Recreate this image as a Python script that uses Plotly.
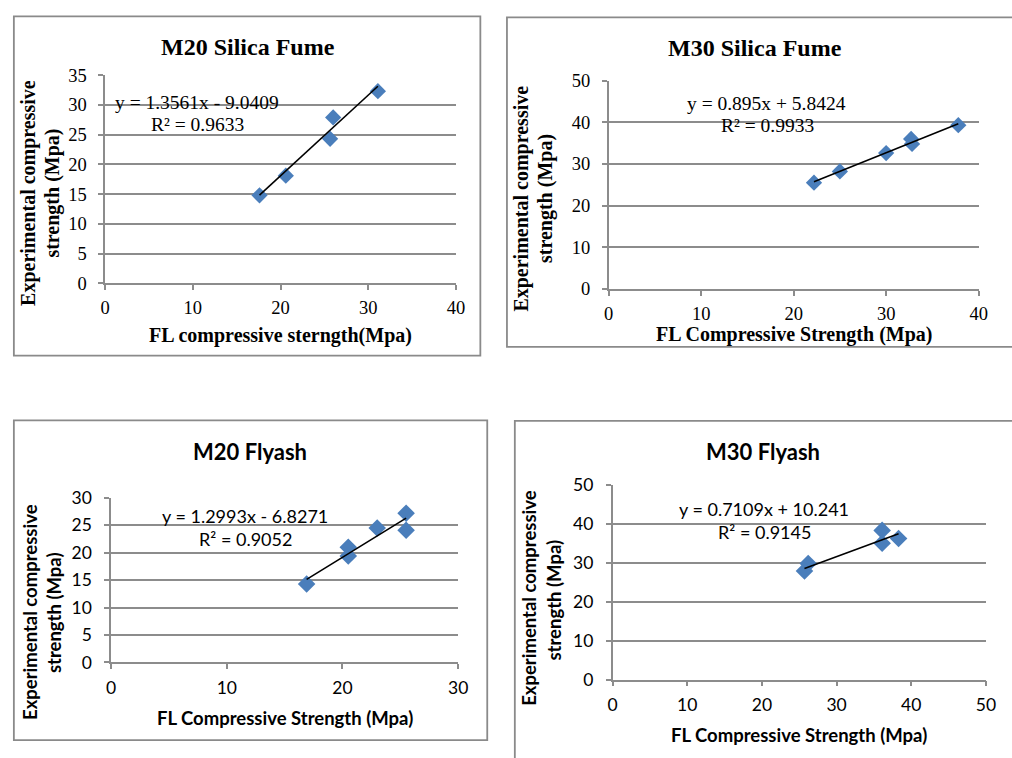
import plotly.graph_objects as go

W, H = 1012, 758

# ---------------- data ----------------
titles = ["M20 Silica Fume", "M30 Silica Fume", "M20 Flyash", "M30 Flyash"]
x_titles = ["FL compressive sterngth(Mpa)", "FL Compressive Strength (Mpa)",
            "FL Compressive Strength (Mpa)", "FL Compressive Strength (Mpa)"]
y_title_1 = "Experimental compressive"
y_title_2 = "strength (Mpa)"

m20sf_x = [17.6, 20.6, 25.65, 26.0, 31.1]
m20sf_y = [14.8, 18.1, 24.3, 27.9, 32.3]
m30sf_x = [22.2, 25.0, 30.0, 32.7, 32.8, 37.8]
m30sf_y = [25.5, 28.2, 32.6, 36.0, 34.8, 39.3]
m20fa_x = [16.9, 20.5, 20.5, 23.0, 25.5, 25.5]
m20fa_y = [14.3, 21.0, 19.4, 24.5, 27.2, 24.1]
m30fa_x = [26.2, 25.7, 36.1, 36.1, 38.3]
m30fa_y = [29.8, 27.9, 38.3, 35.0, 36.2]

slopes = [1.3561, 0.895, 1.2993, 0.7109]
intercepts = [-9.0409, 5.8424, -6.8271, 10.241]
eq_texts = ["y = 1.3561x - 9.0409", "y = 0.895x + 5.8424",
            "y = 1.2993x - 6.8271", "y = 0.7109x + 10.241"]
r2_texts = ["R² = 0.9633", "R² = 0.9933", "R² = 0.9052", "R² = 0.9145"]

x_ranges = [[0, 40], [0, 40], [0, 30], [0, 50]]
y_ranges = [[0, 35], [0, 50], [0, 30], [0, 50]]
x_dticks = [10, 10, 10, 10]
y_dticks = [5, 10, 5, 10]

series_x = [m20sf_x, m30sf_x, m20fa_x, m30fa_x]
series_y = [m20sf_y, m30sf_y, m20fa_y, m30fa_y]

# ---------------- layout geometry (pixels) ----------------
plot_boxes = [  # x0, x1, ytop, ybottom
    (101.7, 457.7, 66.0, 280.0),
    (612.7, 988.3, 71.7, 285.7),
    (107.7, 460.0, 500.7, 670.0),
    (616.7, 995.7, 487.3, 687.7),
]
frames = [  # x0, x1, y0, y1
    (9, 482.5, 5.5, 354.5),
    (509.5, 1030, 6.5, 345.5),
    (9, 489.5, 421, 750),
    (517.5, 1030, 421.5, 780),
]
title_pos = [(247, 37.5), (761.7, 38.5), (249, 453), (769, 453)]
xt_pos = [(280, 334), (800.8, 332.5), (284, 726.7), (806, 745)]
yt1_pos = [(24.5, 187), (524.2, 192.5), (25.5, 618), (532.5, 604)]
yt2_pos = [(48.5, 187), (548.5, 193), (50.5, 618.5), (556.8, 605.8)]
eq_pos = [(195, 94.3), (773.3, 95), (243.7, 519.3), (770.5, 511.7)]
r2_pos = [(195, 116.7), (773.8, 117.3), (244, 542.7), (770.8, 536)]

serif = "Liberation Serif"
sans = "Lato"
fonts = [serif, serif, sans, sans]
title_sizes = [24, 24, 22, 22]
axis_title_sizes = [20, 20, 18.5, 18.5]
tick_sizes = [18.5, 18.5, 17.5, 17.5]
x_standoffs = [2, 2, 4, 4]
y_standoffs = [8, 8, 9, 9]
eq_sizes = [19.5, 19.5, 18, 18]

grid = "#8c8c8c"
blue = "#4a7ebb"


def px(x):
    return x / W


def py(y):
    return 1 - y / H


fig = go.Figure()
annotations = []
shapes = []

for i in range(4):
    n = "" if i == 0 else str(i + 1)
    xa, ya = "x" + n, "y" + n
    x0, x1, yt, yb = plot_boxes[i]
    f = fonts[i]

    fig.add_trace(go.Scatter(
        x=series_x[i], y=series_y[i], mode="markers", xaxis=xa, yaxis=ya,
        marker=dict(symbol="diamond", size=12.5 if i < 2 else 13.5, color=blue,
                    line=dict(width=0)),
        showlegend=False, hoverinfo="x+y"))

    lx = [min(series_x[i]), max(series_x[i])]
    ly = [slopes[i] * v + intercepts[i] for v in lx]
    fig.add_trace(go.Scatter(
        x=lx, y=ly, mode="lines", xaxis=xa, yaxis=ya,
        line=dict(color="black", width=1.6), showlegend=False, hoverinfo="skip"))

    xaxis = dict(domain=[px(x0), px(x1)], range=x_ranges[i], dtick=x_dticks[i], tick0=0,
                 anchor=ya, showgrid=False, zeroline=False, showline=True,
                 linecolor=grid, linewidth=1.5, ticks="outside", ticklen=5,
                 tickcolor=grid, tickwidth=1.5,
                 tickfont=dict(family=f, size=tick_sizes[i], color="black"),
                 ticklabelstandoff=x_standoffs[i], fixedrange=True)
    yaxis = dict(domain=[py(yb), py(yt)], range=y_ranges[i], dtick=y_dticks[i], tick0=0,
                 anchor=xa, showgrid=True, gridcolor=grid, gridwidth=1.5,
                 zeroline=False, showline=True, linecolor=grid, linewidth=1.5,
                 ticks="outside", ticklen=5, tickcolor=grid, tickwidth=1.5,
                 tickfont=dict(family=f, size=tick_sizes[i], color="black"),
                 ticklabelstandoff=y_standoffs[i], fixedrange=True)
    fig.layout["xaxis" + n] = xaxis
    fig.layout["yaxis" + n] = yaxis

    fx0, fx1, fy0, fy1 = frames[i]
    shapes.append(dict(type="rect", xref="paper", yref="paper",
                       x0=px(fx0), x1=px(fx1), y0=py(fy1), y1=py(fy0),
                       line=dict(color="#8a8a8a", width=1.8), layer="below"))

    def ann(text, pos, size, bold=False, angle=0, family=f):
        annotations.append(dict(
            text=f"<b>{text}</b>" if bold else text, xref="paper", yref="paper",
            x=px(pos[0]), y=py(pos[1]), xanchor="center", yanchor="middle",
            showarrow=False, textangle=angle,
            font=dict(family=family, size=size, color="black")))

    ann(titles[i], title_pos[i], title_sizes[i], bold=True)
    ann(x_titles[i], xt_pos[i], axis_title_sizes[i], bold=True)
    ann(y_title_1, yt1_pos[i], axis_title_sizes[i], bold=True, angle=-90)
    ann(y_title_2, yt2_pos[i], axis_title_sizes[i], bold=True, angle=-90)
    ann(eq_texts[i], eq_pos[i], eq_sizes[i])
    ann(r2_texts[i], r2_pos[i], eq_sizes[i])

fig.update_layout(width=W, height=H, margin=dict(l=0, r=0, t=0, b=0),
                  paper_bgcolor="white", plot_bgcolor="white",
                  annotations=annotations, shapes=shapes, showlegend=False)

fig.write_html("out.html", config={"displayModeBar": False})
